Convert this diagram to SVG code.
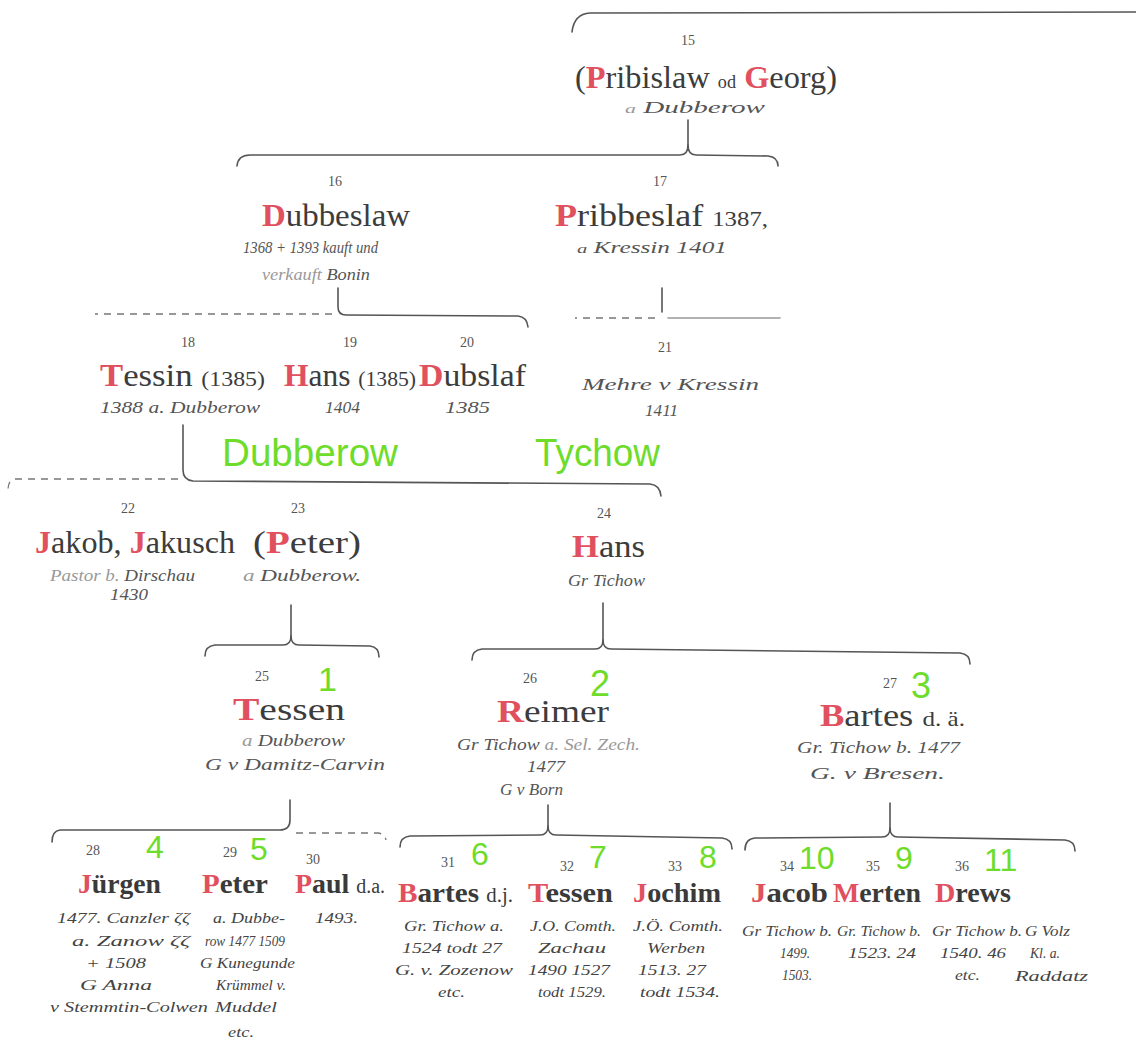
<svg xmlns="http://www.w3.org/2000/svg" width="1136" height="1053" viewBox="0 0 1136 1053">
<style>
.ln{fill:none;stroke:#555;stroke-width:1.6;stroke-linecap:round}
.dl{fill:none;stroke:#777;stroke-width:1.3;stroke-dasharray:7 6}
.num{font-family:"Liberation Serif",serif;font-size:14px;fill:#555;text-anchor:middle}
.nm{font-family:"Liberation Serif",serif;font-size:32px;fill:#3c3c3c}
.nb{font-family:"Liberation Serif",serif;font-size:28px;font-weight:bold;fill:#3a3a3a}
.r{fill:#e0505e;font-weight:bold}
.sm{font-size:22px}
.sub{font-family:"Liberation Serif",serif;font-style:italic;font-size:16px;fill:#555}
.sc{font-family:"Liberation Serif",serif;font-style:italic;font-size:15px;fill:#444}
.g{font-family:"Liberation Sans",sans-serif;fill:#6ddc2a}
</style>
<rect width="1136" height="1053" fill="#ffffff"/>
<g id="connectors">
<path class="ln" d="M572,32 Q574,14 590,13 L1136,12"/>
<path class="ln" d="M688,120 L688,145 Q688,155 680,155 L250,155 Q238,155 237,166"/>
<path class="ln" d="M688,145 Q688,155 696,155 L768,156 Q778,157 778,166"/>
<path class="ln" d="M338,288 L338,307 Q338,315 346,315 L518,316 Q527,317 528,327"/>
<path class="dl" d="M332,314 L95,314"/>
<path class="ln" d="M662,288 L662,312"/>
<path class="ln" d="M668,318 L780,318" stroke-opacity="0.6"/>
<path class="dl" d="M655,318 L575,318"/>
<path class="ln" d="M183,425 L183,470 Q183,480 193,481 L650,484 Q660,485 661,496"/>
<path class="dl" d="M178,479 L15,479 Q8,480 8,490"/>
<path class="ln" d="M291,605 L291,636 Q291,645 283,645 L215,645 Q205,646 205,656"/>
<path class="ln" d="M291,636 Q291,645 299,645 L370,646 Q379,647 379,657"/>
<path class="ln" d="M603,603 L603,640 Q603,649 595,649 L482,649 Q472,650 472,660"/>
<path class="ln" d="M603,640 Q603,649 611,649 L960,653 Q970,654 970,664"/>
<path class="ln" d="M290,800 L290,820 Q290,830 280,830 L60,830 Q52,831 52,842"/>
<path class="dl" d="M296,833 L378,833 Q385,834 386,840"/>
<path class="ln" d="M548,805 L548,826 Q548,835 540,835 L410,836 Q400,837 400,847"/>
<path class="ln" d="M548,826 Q548,835 556,835 L722,838 Q732,839 732,849"/>
<path class="ln" d="M890,803 L890,828 Q890,837 882,837 L755,838 Q745,839 745,850"/>
<path class="ln" d="M890,828 Q890,837 898,837 L1065,840 Q1075,841 1075,851"/>
</g>
<g id="n15">
<text class="num" x="688" y="45">15</text>
<text class="nm" x="575" y="88" textLength="262" lengthAdjust="spacingAndGlyphs">(<tspan class="r">P</tspan>ribislaw <tspan font-size="18">od</tspan> <tspan class="r">G</tspan>eorg)</text>
<text class="sub" x="625" y="113" textLength="140" lengthAdjust="spacingAndGlyphs"><tspan font-size="12" fill="#999">a</tspan>   Dubberow</text>
</g>
<g id="n16">
<text class="num" x="335" y="186">16</text>
<text class="nm" x="262" y="226" textLength="148" lengthAdjust="spacingAndGlyphs"><tspan class="r">D</tspan>ubbeslaw</text>
<text class="sub" x="243" y="253" textLength="135" lengthAdjust="spacingAndGlyphs" fill="#888">1368 + 1393 kauft und</text>
<text class="sub" x="262" y="280" textLength="108" lengthAdjust="spacingAndGlyphs"><tspan fill="#999">verkauft</tspan> Bonin</text>
</g>
<g id="n17">
<text class="num" x="660" y="186">17</text>
<text class="nm" x="555" y="226" textLength="213" lengthAdjust="spacingAndGlyphs"><tspan class="r">P</tspan>ribbeslaf <tspan class="sm">1387,</tspan></text>
<text class="sub" x="577" y="253" textLength="150" lengthAdjust="spacingAndGlyphs"><tspan font-size="13">a</tspan>  Kressin 1401</text>
</g>
<g id="n18">
<text class="num" x="188" y="347">18</text>
<text class="nm" x="100" y="386" textLength="165" lengthAdjust="spacingAndGlyphs"><tspan class="r">T</tspan>essin <tspan class="sm">(1385)</tspan></text>
<text class="sub" x="100" y="413" textLength="160" lengthAdjust="spacingAndGlyphs">1388 a. Dubberow</text>
</g>
<g id="n19">
<text class="num" x="350" y="347">19</text>
<text class="nm" x="284" y="386" textLength="132" lengthAdjust="spacingAndGlyphs"><tspan class="r">H</tspan>ans <tspan class="sm">(1385)</tspan></text>
<text class="sub" x="325" y="413" textLength="35" lengthAdjust="spacingAndGlyphs" fill="#888">1404</text>
</g>
<g id="n20">
<text class="num" x="467" y="347">20</text>
<text class="nm" x="419" y="386" textLength="107" lengthAdjust="spacingAndGlyphs"><tspan class="r">D</tspan>ubslaf</text>
<text class="sub" x="445" y="413" textLength="45" lengthAdjust="spacingAndGlyphs" fill="#888">1385</text>
</g>
<g id="n21">
<text class="num" x="665" y="352">21</text>
<text class="sub" x="582" y="390" font-size="20" textLength="177" lengthAdjust="spacingAndGlyphs" fill="#777">Mehre  v  Kressin</text>
<text class="sub" x="645" y="416" textLength="33" lengthAdjust="spacingAndGlyphs" fill="#888">1411</text>
</g>
<g id="labels">
<text class="g" x="222" y="466" font-size="38" textLength="176" lengthAdjust="spacingAndGlyphs">Dubberow</text>
<text class="g" x="535" y="466" font-size="38" textLength="125" lengthAdjust="spacingAndGlyphs">Tychow</text>
</g>
<g id="n22">
<text class="num" x="128" y="513">22</text>
<text class="nm" x="35" y="553" textLength="200" lengthAdjust="spacingAndGlyphs"><tspan class="r">J</tspan>akob, <tspan class="r">J</tspan>akusch</text>
<text class="sub" x="50" y="581" textLength="145" lengthAdjust="spacingAndGlyphs"><tspan fill="#999">Pastor b.</tspan> Dirschau</text>
<text class="sub" x="110" y="600" textLength="38" lengthAdjust="spacingAndGlyphs" fill="#888">1430</text>
</g>
<g id="n23">
<text class="num" x="298" y="513">23</text>
<text class="nm" x="253" y="553" textLength="108" lengthAdjust="spacingAndGlyphs">(<tspan class="r">P</tspan>eter)</text>
<text class="sub" x="243" y="581" textLength="118" lengthAdjust="spacingAndGlyphs"><tspan fill="#999">a</tspan>  Dubberow.</text>
</g>
<g id="n24">
<text class="num" x="604" y="518">24</text>
<text class="nm" x="572" y="557" textLength="73" lengthAdjust="spacingAndGlyphs"><tspan class="r">H</tspan>ans</text>
<text class="sub" x="568" y="586" textLength="77" lengthAdjust="spacingAndGlyphs">Gr Tichow</text>
</g>
<g id="n25">
<text class="num" x="262" y="681">25</text>
<text class="g" x="318" y="691" font-size="34">1</text>
<text class="nm" x="233" y="720" textLength="112" lengthAdjust="spacingAndGlyphs"><tspan class="r">T</tspan>essen</text>
<text class="sub" x="242" y="746" textLength="103" lengthAdjust="spacingAndGlyphs"><tspan fill="#999">a</tspan>  Dubberow</text>
<text class="sub" x="205" y="770" textLength="180" lengthAdjust="spacingAndGlyphs">G  v Damitz-Carvin</text>
</g>
<g id="n26">
<text class="num" x="530" y="683">26</text>
<text class="g" x="590" y="696" font-size="36">2</text>
<text class="nm" x="497" y="722" textLength="112" lengthAdjust="spacingAndGlyphs"><tspan class="r">R</tspan>eimer</text>
<text class="sub" x="457" y="750" textLength="183" lengthAdjust="spacingAndGlyphs">Gr Tichow <tspan fill="#999">a. Sel. Zech.</tspan></text>
<text class="sub" x="527" y="772" textLength="38" lengthAdjust="spacingAndGlyphs">1477</text>
<text class="sub" x="500" y="795" textLength="63" lengthAdjust="spacingAndGlyphs">G  v Born</text>
</g>
<g id="n27">
<text class="num" x="890" y="688">27</text>
<text class="g" x="911" y="698" font-size="36">3</text>
<text class="nm" x="820" y="726" textLength="145" lengthAdjust="spacingAndGlyphs"><tspan class="r">B</tspan>artes <tspan class="sm">d. ä.</tspan></text>
<text class="sub" x="797" y="753" textLength="163" lengthAdjust="spacingAndGlyphs">Gr. Tichow b.  1477</text>
<text class="sub" x="810" y="779" textLength="135" lengthAdjust="spacingAndGlyphs">G.  v  Bresen.</text>
</g>
<g id="n28">
<text class="num" x="93" y="855">28</text>
<text class="g" x="146" y="858" font-size="32">4</text>
<text class="nb" x="78" y="893" textLength="83" lengthAdjust="spacingAndGlyphs"><tspan class="r">J</tspan>ürgen</text>
<text class="sc" x="57" y="923" textLength="133" lengthAdjust="spacingAndGlyphs">1477. Canzler ζζ</text>
<text class="sc" x="72" y="946" textLength="118" lengthAdjust="spacingAndGlyphs">a. Zanow ζζ</text>
<text class="sc" x="86" y="968" textLength="60" lengthAdjust="spacingAndGlyphs">+ 1508</text>
<text class="sc" x="80" y="990" textLength="72" lengthAdjust="spacingAndGlyphs">G  Anna</text>
<text class="sc" x="50" y="1012" textLength="158" lengthAdjust="spacingAndGlyphs">v Stemmtin-Colwen</text>
</g>
<g id="n29">
<text class="num" x="230" y="857">29</text>
<text class="g" x="250" y="860" font-size="32">5</text>
<text class="nb" x="202" y="893" textLength="66" lengthAdjust="spacingAndGlyphs"><tspan class="r">P</tspan>eter</text>
<text class="sc" x="213" y="923" textLength="72" lengthAdjust="spacingAndGlyphs">a. Dubbe-</text>
<text class="sc" x="205" y="946" textLength="80" lengthAdjust="spacingAndGlyphs">row 1477 1509</text>
<text class="sc" x="200" y="968" textLength="95" lengthAdjust="spacingAndGlyphs">G Kunegunde</text>
<text class="sc" x="216" y="990" textLength="70" lengthAdjust="spacingAndGlyphs">Krümmel v.</text>
<text class="sc" x="215" y="1012" textLength="62" lengthAdjust="spacingAndGlyphs">Muddel</text>
<text class="sc" x="228" y="1037" textLength="26" lengthAdjust="spacingAndGlyphs">etc.</text>
</g>
<g id="n30">
<text class="num" x="313" y="864">30</text>
<text class="nb" x="295" y="893" textLength="90" lengthAdjust="spacingAndGlyphs"><tspan class="r">P</tspan>aul <tspan font-size="20" font-weight="normal">d.a.</tspan></text>
<text class="sc" x="315" y="923" textLength="43" lengthAdjust="spacingAndGlyphs">1493.</text>
</g>
<g id="n31">
<text class="num" x="448" y="867">31</text>
<text class="g" x="471" y="865" font-size="32">6</text>
<text class="nb" x="398" y="902" textLength="115" lengthAdjust="spacingAndGlyphs"><tspan class="r">B</tspan>artes <tspan font-size="20" font-weight="normal">d.j.</tspan></text>
<text class="sc" x="404" y="931" textLength="100" lengthAdjust="spacingAndGlyphs">Gr. Tichow a.</text>
<text class="sc" x="402" y="953" textLength="100" lengthAdjust="spacingAndGlyphs">1524  todt 27</text>
<text class="sc" x="395" y="975" textLength="118" lengthAdjust="spacingAndGlyphs">G. v. Zozenow</text>
<text class="sc" x="438" y="997" textLength="27" lengthAdjust="spacingAndGlyphs">etc.</text>
</g>
<g id="n32">
<text class="num" x="567" y="871">32</text>
<text class="g" x="589" y="868" font-size="32">7</text>
<text class="nb" x="528" y="902" textLength="85" lengthAdjust="spacingAndGlyphs"><tspan class="r">T</tspan>essen</text>
<text class="sc" x="530" y="931" textLength="86" lengthAdjust="spacingAndGlyphs">J.O. Comth.</text>
<text class="sc" x="538" y="953" textLength="68" lengthAdjust="spacingAndGlyphs">Zachau</text>
<text class="sc" x="528" y="975" textLength="82" lengthAdjust="spacingAndGlyphs">1490  1527</text>
<text class="sc" x="538" y="997" textLength="68" lengthAdjust="spacingAndGlyphs">todt 1529.</text>
</g>
<g id="n33">
<text class="num" x="675" y="871">33</text>
<text class="g" x="699" y="868" font-size="32">8</text>
<text class="nb" x="633" y="902" textLength="88" lengthAdjust="spacingAndGlyphs"><tspan class="r">J</tspan>ochim</text>
<text class="sc" x="633" y="931" textLength="90" lengthAdjust="spacingAndGlyphs">J.Ö. Comth.</text>
<text class="sc" x="647" y="953" textLength="58" lengthAdjust="spacingAndGlyphs">Werben</text>
<text class="sc" x="638" y="975" textLength="68" lengthAdjust="spacingAndGlyphs">1513. 27</text>
<text class="sc" x="640" y="997" textLength="80" lengthAdjust="spacingAndGlyphs">todt 1534.</text>
</g>
<g id="n34">
<text class="num" x="787" y="871">34</text>
<text class="g" x="799" y="869" font-size="32">10</text>
<text class="nb" x="751" y="902" textLength="77" lengthAdjust="spacingAndGlyphs"><tspan class="r">J</tspan>acob</text>
<text class="sc" x="742" y="936" textLength="90" lengthAdjust="spacingAndGlyphs">Gr Tichow b.</text>
<text class="sc" x="780" y="958" textLength="30" lengthAdjust="spacingAndGlyphs">1499.</text>
<text class="sc" x="782" y="980" textLength="30" lengthAdjust="spacingAndGlyphs">1503.</text>
</g>
<g id="n35">
<text class="num" x="873" y="871">35</text>
<text class="g" x="895" y="869" font-size="32">9</text>
<text class="nb" x="833" y="902" textLength="88" lengthAdjust="spacingAndGlyphs"><tspan class="r">M</tspan>erten</text>
<text class="sc" x="837" y="936" textLength="84" lengthAdjust="spacingAndGlyphs">Gr. Tichow b.</text>
<text class="sc" x="848" y="958" textLength="68" lengthAdjust="spacingAndGlyphs">1523. 24</text>
</g>
<g id="n36">
<text class="num" x="962" y="871">36</text>
<text class="g" x="984" y="871" font-size="32">11</text>
<text class="nb" x="935" y="902" textLength="76" lengthAdjust="spacingAndGlyphs"><tspan class="r">D</tspan>rews</text>
<text class="sc" x="932" y="936" textLength="90" lengthAdjust="spacingAndGlyphs">Gr Tichow b.</text>
<text class="sc" x="940" y="958" textLength="66" lengthAdjust="spacingAndGlyphs">1540. 46</text>
<text class="sc" x="955" y="980" textLength="25" lengthAdjust="spacingAndGlyphs">etc.</text>
<text class="sc" x="1025" y="936" textLength="45" lengthAdjust="spacingAndGlyphs">G Volz</text>
<text class="sc" x="1030" y="958" textLength="30" lengthAdjust="spacingAndGlyphs">Kl. a.</text>
<text class="sc" x="1015" y="981" textLength="73" lengthAdjust="spacingAndGlyphs">Raddatz</text>
</g>
</svg>
